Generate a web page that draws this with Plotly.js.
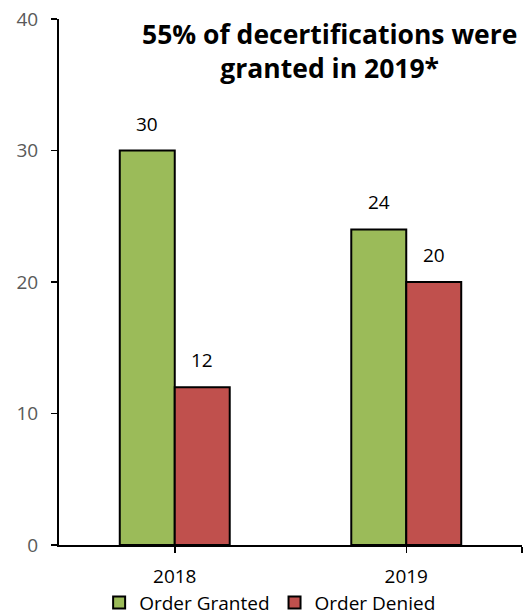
<!DOCTYPE html>
<html>
<head>
<meta charset="utf-8">
<script src="https://cdn.plot.ly/plotly-3.0.1.min.js"></script>
<style>html,body{margin:0;padding:0;background:#fff;}#chart{width:529px;height:615px;}</style>
</head>
<body>
<div id="chart"></div>
<script>
const categories = ['2018', '2019'];
const granted = [30, 24];
const denied = [12, 20];
const seriesNames = ['Order Granted', 'Order Denied'];
const yTicks = [0, 10, 20, 30, 40];

const FONT = 'Open Sans, Noto Sans, sans-serif';
const bargap = 0.525;
const w = (1 - bargap) / 2;
const xs = categories.map((c, i) => i);

const traces = [
  {type: 'bar', name: seriesNames[0], x: xs, y: granted,
   marker: {color: '#9BBB59', line: {color: '#000', width: 2}}},
  {type: 'bar', name: seriesNames[1], x: xs, y: denied,
   marker: {color: '#C0504D', line: {color: '#000', width: 2}}}
];

const annotations = [];
xs.forEach((x, i) => {
  annotations.push({x: x - w / 2, y: granted[i], text: String(granted[i]), showarrow: false,
    yanchor: 'bottom', yshift: 12, font: {family: FONT, size: 19, color: '#000'}});
  annotations.push({x: x + w / 2, y: denied[i], text: String(denied[i]), showarrow: false,
    yanchor: 'bottom', yshift: 12, font: {family: FONT, size: 19, color: '#000'}});
});
annotations.push({xref: 'paper', yref: 'paper', x: 0.585, y: 1.0, xanchor: 'center', yanchor: 'top',
  yshift: 5, showarrow: false, align: 'center',
  text: '<b>55% of decertifications were<br>granted in 2019*</b>',
  font: {family: FONT, size: 26.5, color: '#000'}});

const layout = {
  width: 529, height: 615,
  margin: {l: 59, r: 7, t: 19, b: 70},
  paper_bgcolor: '#fff', plot_bgcolor: '#fff',
  barmode: 'group', bargap: bargap, bargroupgap: 0,
  showlegend: true,
  legend: {orientation: 'h', xref: 'paper', x: 0.456, xanchor: 'center',
    yref: 'container', y: 0.02, yanchor: 'middle',
    font: {family: FONT, size: 19, color: '#000'}, itemwidth: 30, traceorder: 'normal'},
  xaxis: {range: [-0.5, 1.5], tickvals: [0, 1, 1.5], ticktext: categories.concat(['']),
    showgrid: false, zeroline: false, showline: true, linecolor: '#000', linewidth: 1.5,
    ticks: 'outside', ticklen: 6, tickcolor: '#000', tickwidth: 1.5, ticklabelstandoff: 8,
    tickfont: {family: FONT, size: 19, color: '#000'}, fixedrange: true},
  yaxis: {range: [0, 40], tickvals: yTicks, showgrid: false, zeroline: false,
    showline: true, linecolor: '#000', linewidth: 2, ticks: 'outside', ticklen: 6,
    tickcolor: '#000', tickwidth: 1.5, ticklabelstandoff: 9,
    tickfont: {family: FONT, size: 19, color: '#595959'}, fixedrange: true},
  annotations: annotations
};

Plotly.newPlot('chart', traces, layout, {displayModeBar: false, staticPlot: true});
</script>
</body>
</html>
